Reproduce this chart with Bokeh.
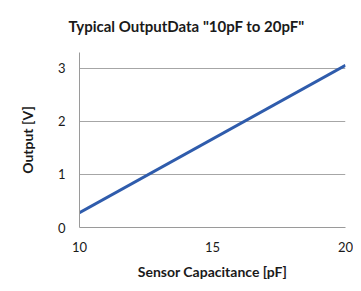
from bokeh.plotting import figure
from bokeh.models import Range1d, FixedTicker, Title
from bokeh.embed import file_html
from bokeh.resources import INLINE

# Data
capacitance_pf = [10, 20]
output_v = [0.28, 3.06]
x_ticks = [10, 15, 20]
y_ticks = [0, 1, 2, 3]
title_text = 'Typical OutputData "10pF to 20pF"'
x_label = "Sensor Capacitance [pF]"
y_label = "Output [V]"

FONT = "Lato"
TXT = "#1a1a1a"

p = figure(frame_width=266, frame_height=175, output_backend="svg",
           toolbar_location=None, title=None,
           x_range=Range1d(10, 20), y_range=Range1d(0, 3.3),
           min_border_left=79, min_border_right=8, min_border_top=52,
           min_border_bottom=48)

# spacer panel between the frame and the title
spacer = Title(text=" ", text_font_size="8px", standoff=2)
p.add_layout(spacer, "above")

title = Title(text=title_text, align="left", offset=-11, standoff=10,
              text_font=FONT, text_font_size="15px", text_font_style="bold",
              text_color=TXT)
p.add_layout(title, "above")

p.line(capacitance_pf, output_v, line_color="#2F5CAC", line_width=3)

p.outline_line_color = None
p.background_fill_color = "white"
p.border_fill_color = "white"

p.xgrid.visible = False
p.ygrid.ticker = FixedTicker(ticks=y_ticks)
p.ygrid.grid_line_color = "#A6A6A6"
p.ygrid.grid_line_width = 1

for ax in (p.xaxis[0], p.yaxis[0]):
    ax.axis_line_color = "#9A9A9A"
    ax.major_tick_line_color = None
    ax.minor_tick_line_color = None
    ax.major_label_text_font = FONT
    ax.major_label_text_font_size = "13px"
    ax.major_label_text_color = TXT
    ax.axis_label_text_font = FONT
    ax.axis_label_text_font_size = "14px"
    ax.axis_label_text_font_style = "bold"
    ax.axis_label_text_color = TXT

p.xaxis[0].ticker = FixedTicker(ticks=x_ticks)
p.yaxis[0].ticker = FixedTicker(ticks=y_ticks)
p.xaxis[0].axis_label = x_label
p.yaxis[0].axis_label = y_label
p.xaxis[0].major_label_standoff = 8
p.xaxis[0].axis_label_standoff = 8
p.yaxis[0].major_label_standoff = 8
p.yaxis[0].axis_label_standoff = 19

open("out.html", "w").write(file_html(p, INLINE))
